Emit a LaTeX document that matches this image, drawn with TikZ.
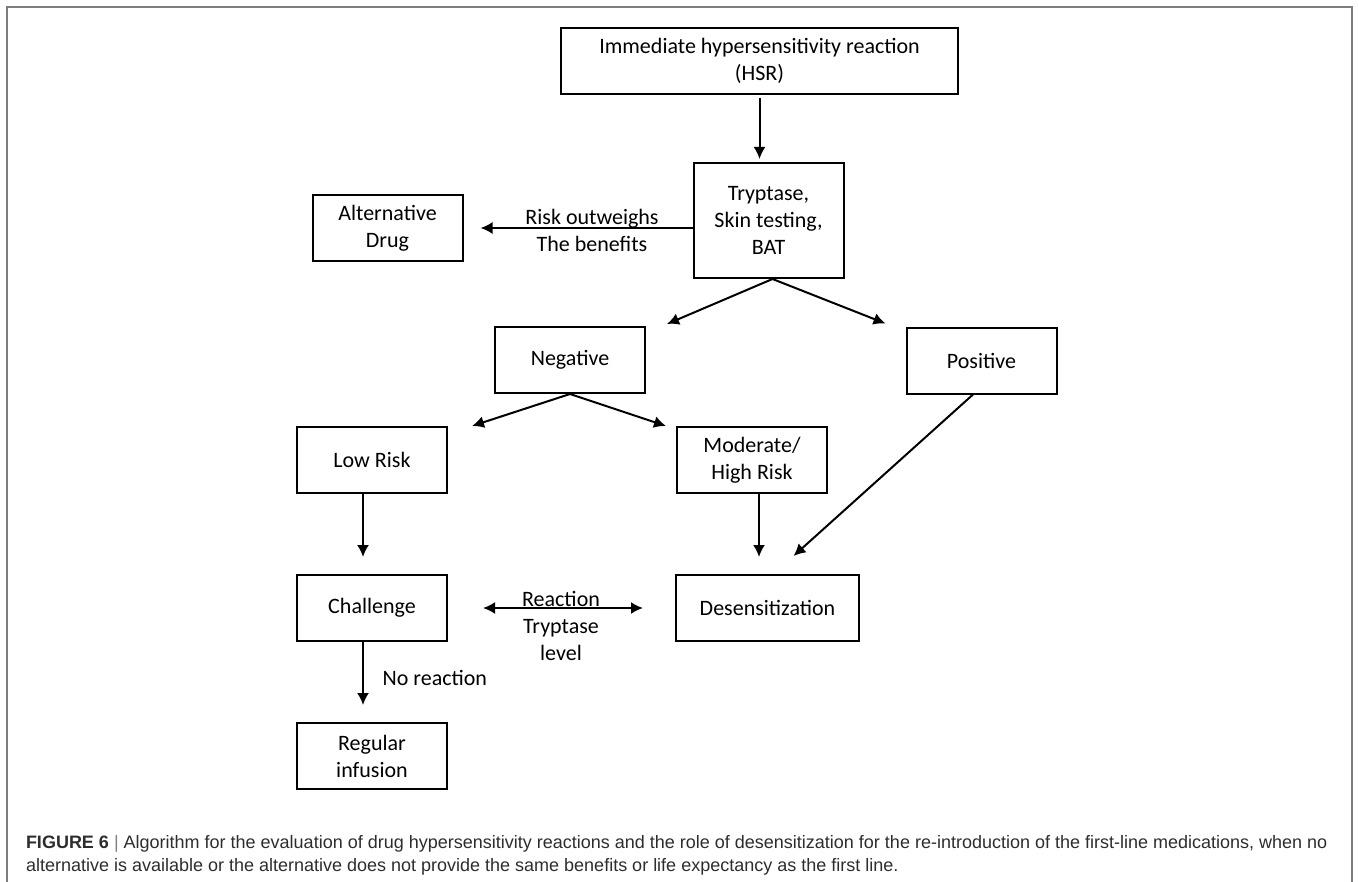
\documentclass[tikz,border=0pt]{standalone}
\usepackage{fontspec}
\setmainfont{Carlito}
\newfontfamily\capfont{Liberation Sans}
\usepackage{tikz}
\usetikzlibrary{arrows,arrows.meta}
\usetikzlibrary{positioning}
\definecolor{framegray}{RGB}{125,125,125}
\definecolor{captext}{RGB}{45,45,45}

\begin{document}
\begin{tikzpicture}[->,>={Latex[length=6pt,width=6pt]},shorten >=8.5pt,x=0.5pt,y=-0.5pt,line width=1pt,
  flow box/.style={rectangle,draw,line width=1pt,align=center,inner sep=2pt,
    minimum width=75pt,minimum height=33pt,font=\fontsize{11}{13.5}\selectfont},
  edge text/.style={align=center,font=\fontsize{11}{13.5}\selectfont}]

  \useasboundingbox (0,0) rectangle (1359,882);
  \draw[-,shorten >=0pt,line width=0.8pt,draw=framegray] (7,882) -- (7,7) -- (1352,7) -- (1352,882);

  \node[flow box,minimum width=198.5pt] (hsr) at (759.5,61) {Immediate hypersensitivity reaction\\(HSR)};
  \node[flow box,minimum height=57.5pt] (tryp) at (768.5,220.5) {Tryptase,\\Skin testing,\\BAT};
  \node[flow box] (alt) at (387.5,228) {Alternative\\Drug};
  \node[flow box] (neg) at (570,360) {Negative};
  \node[flow box] (pos) at (981.5,360.5) {Positive};
  \node[flow box] (low) at (372,460) {Low Risk};
  \node[flow box] (mod) at (752,460) {Moderate/\\High Risk};
  \node[flow box] (chal) at (372,608) {Challenge};
  \node[flow box,minimum width=91.5pt] (desens) at (767.5,608) {Desensitization};
  \node[flow box] (reg) at (372,756) {Regular\\infusion};

  \node[edge text] (risk) at (592,230) {Risk outweighs\\The benefits};
  \node[edge text] (react) at (561,626) {Reaction\\Tryptase\\level};
  \node[edge text,anchor=west] (noreact) at (375,678) {No reaction};

  \path
    (hsr.south) edge[shorten >=1.5pt,shorten <=1.5pt] (hsr.south |- tryp.north)
    (tryp.west |- alt.east) edge (alt.east)
    ([xshift=2pt]tryp.south) edge[shorten >=0pt] ([xshift=10.5pt,yshift=1pt]neg.north east)
    ([xshift=2pt]tryp.south) edge[shorten >=0pt] ([xshift=-10pt,yshift=1.5pt]pos.north west)
    (neg.south) edge[shorten >=0pt] ([xshift=12pt]low.north east)
    (neg.south) edge[shorten >=0pt] ([xshift=-5pt]mod.north west)
    ([xshift=-4.5pt]low.south) edge ([xshift=-4.5pt]chal.north)
    ([xshift=3.5pt]mod.south) edge ([xshift=3.5pt]mod.south |- desens.north)
    ([xshift=-4.25pt]pos.south) edge[shorten >=0pt] ([xshift=13pt,yshift=9pt]desens.north)
    (chal.east) edge[<->,shorten <=17.5pt,shorten >=16pt] (desens.west)
    ([xshift=-4.5pt]chal.south) edge ([xshift=-4.5pt]reg.north);

  \node[anchor=north west,align=left,text=captext,inner sep=0pt,
    font=\capfont\fontsize{9}{11.5}\selectfont] (cap) at (25,834)
    {\textbf{FIGURE 6} {\color{gray}|} Algorithm for the evaluation of drug hypersensitivity reactions and the role of desensitization for the re-introduction of the first-line medications, when no\\
     alternative is available or the alternative does not provide the same benefits or life expectancy as the first line.};

\end{tikzpicture}
\end{document}
